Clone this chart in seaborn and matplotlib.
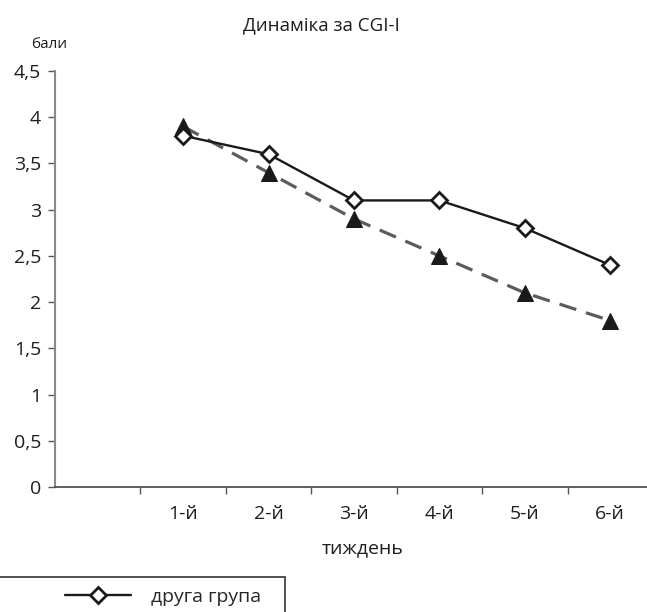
import numpy as np
import pandas as pd
import seaborn as sns
import matplotlib.pyplot as plt
from matplotlib.patches import Rectangle
from matplotlib.lines import Line2D

# Data
weeks = ['1-й', '2-й', '3-й', '4-й', '5-й', '6-й']
group_first = [3.9, 3.4, 2.9, 2.5, 2.1, 1.8]    # triangles, dashed
group_second = [3.8, 3.6, 3.1, 3.1, 2.8, 2.4]   # diamonds, solid
y_ticks = [0, 0.5, 1, 1.5, 2, 2.5, 3, 3.5, 4, 4.5]
y_tick_labels = ['0', '0,5', '1', '1,5', '2', '2,5', '3', '3,5', '4', '4,5']

df = pd.DataFrame({'pos': np.arange(1, len(weeks) + 1), 'week': weeks,
                   'first': group_first, 'second': group_second})

sns.set_style('white')
plt.rcParams['font.family'] = ['Open Sans', 'DejaVu Sans']

fig = plt.figure(figsize=(6.47, 6.12), dpi=100)
ax = fig.add_axes([55 / 647, 125 / 612, 598 / 647, 416 / 612])

sns.lineplot(data=df, x='pos', y='first', ax=ax, color='#5c5c5c', lw=2.3,
             linestyle=(0, (5.5, 3.2)), marker='^', markersize=12,
             markerfacecolor='#1a1a1a', markeredgecolor='#1a1a1a', zorder=3)
sns.lineplot(data=df, x='pos', y='second', ax=ax, color='#1a1a1a', lw=1.7,
             marker='D', markersize=8, markerfacecolor='white',
             markeredgecolor='#1a1a1a', markeredgewidth=2, zorder=4)

ax.set_xlim(-0.5, 6.5)
ax.set_ylim(0, 4.5)
ax.set_xticks(df['pos'])
ax.set_xticklabels(weeks, fontsize=14, color='#1e1e1e')
ax.set_xticks(np.arange(0.5, 6.5, 1), minor=True)
ax.tick_params(axis='x', which='major', length=0, pad=13)
ax.tick_params(axis='x', which='minor', length=5, width=1, color='#555555',
               direction='out', bottom=True)
ax.set_yticks(y_ticks)
ax.set_yticklabels(y_tick_labels, fontsize=14, color='#1e1e1e')
ax.tick_params(axis='y', length=5, width=1, color='#555555', direction='out',
               left=True, pad=5)
ax.set_xlabel('')
ax.set_ylabel('')

for side in ['top', 'right']:
    ax.spines[side].set_visible(False)
ax.spines['left'].set_color('#8a8a8a')
ax.spines['left'].set_linewidth(1.5)
ax.spines['bottom'].set_color('#444444')
ax.spines['bottom'].set_linewidth(1.2)

fig.text(0.497, 1 - 25 / 612, 'Динаміка за CGI-I', ha='center', va='center',
         fontsize=13.5, color='#1e1e1e')
fig.text(49 / 647, 1 - 44 / 612, 'бали', ha='center', va='center',
         fontsize=11, color='#1e1e1e')
fig.text(362 / 647, 1 - 548 / 612, 'тиждень', ha='center', va='center',
         fontsize=14, color='#1e1e1e')

# Legend, partly cut off by the figure edge as in the source
handle = Line2D([], [], color='#1a1a1a', lw=1.7, marker='D', markersize=8,
                markerfacecolor='white', markeredgecolor='#1a1a1a',
                markeredgewidth=2)
fig.legend([handle], ['друга група'], loc='center left', frameon=False,
           bbox_to_anchor=(65 / 647, 1 - 597 / 612), handlelength=3.4,
           handletextpad=1.0, fontsize=14, borderpad=0, borderaxespad=0)
fig.patches.append(Rectangle((-10 / 647, -0.05), 295 / 647, (612 - 577) / 612 + 0.05,
                             transform=fig.transFigure, fill=False,
                             edgecolor='#333333', lw=1.2))

fig.savefig('out.png', dpi=100)
